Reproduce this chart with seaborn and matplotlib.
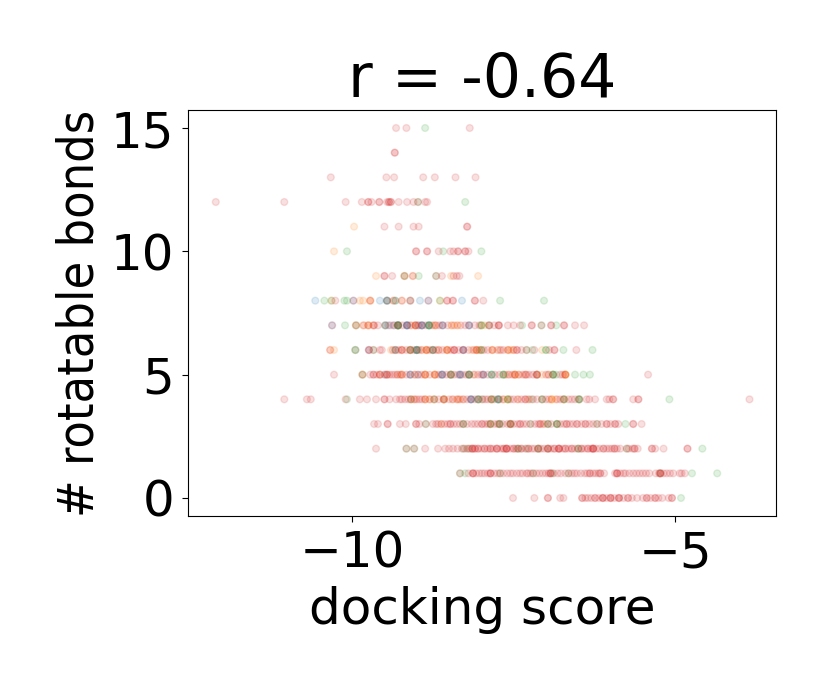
import numpy as np
import pandas as pd
import matplotlib
matplotlib.use("Agg")
import matplotlib.pyplot as plt
import seaborn as sns

# docking scores, one inner list per rotatable bond count (index = bonds)
blue_scores = [
    [], [], [], [],
    [-8.16, -8.16, -8.16, -8.05, -7.74, -7.74, -8.58],
    [-9.10, -9.10, -8.98, -8.61, -8.61, -8.61, -8.47, -8.33, -8.33, -8.33, -8.19, -7.97, -7.97, -7.84, -7.14, -9.49],
    [-9.74, -9.00, -9.00, -9.00, -8.28, -8.28, -9.95, -9.33, -9.10, -8.75],
    [-10.31, -9.49, -9.44, -9.29, -9.29, -9.29, -9.15, -9.15, -9.15, -9.15, -8.92, -8.92, -8.92, -8.81, -8.81, -8.60,
     -8.60, -8.19, -8.19, -9.36, -8.98],
    [-10.57, -9.98, -9.57, -9.46, -9.46, -9.10, -8.95, -8.82, -8.30, -9.33],
]
orange_scores = [
    [], [], [], [-7.86, -7.55, -8.62, -7.05],
    [-9.09, -9.03, -8.87, -8.87, -8.80, -8.73, -8.58, -8.58, -8.58, -8.45, -8.36, -8.36, -8.28, -7.66, -7.59, -7.59, -7.43,
     -7.28, -6.91, -6.91, -6.91, -6.85, -6.72, -7.84],
    [-9.84, -9.57, -9.46, -9.30, -9.23, -9.23, -9.03, -8.87, -8.87, -8.87, -8.72, -8.72, -8.72, -8.47, -8.10, -7.59, -7.48,
     -7.48, -7.48, -7.42, -7.32, -7.14, -7.14, -7.06, -6.96, -6.70, -6.70, -6.70, -6.70],
    [-10.28, -10.34, -9.95, -9.40, -9.23, -9.10, -9.10, -8.93, -8.85, -8.85, -8.85, -8.66, -8.53, -8.53, -8.53, -8.15, -8.07,
     -8.07, -8.07, -8.00, -7.83, -7.83, -7.72, -7.59, -7.59, -7.54, -7.50, -7.06],
    [-9.94, -9.83, -9.75, -9.75, -9.67, -9.08, -9.02, -9.02, -8.72, -8.46, -8.46, -8.37, -8.37, -8.00, -9.29, -8.72, -7.95],
    [-10.32, -9.88, -9.83, -9.72, -9.72, -9.36, -9.23, -9.10, -8.64],
    [-9.63, -9.19, -9.06, -8.47, -8.05],
    [-10.28], [-9.97],
]
green_scores = [
    [-4.91],
    [-8.33, -8.25, -7.71, -7.20, -6.90, -6.65, -5.23, -4.74, -4.35],
    [-9.16, -9.04, -8.28, -8.20, -7.43, -7.43, -7.12, -7.12, -6.50, -6.50, -7.30, -5.75, -6.97, -4.58],
    [-8.86, -8.28, -8.28, -7.86, -7.86, -7.72, -7.72, -7.72, -7.55, -7.55, -7.24, -6.97, -6.97, -6.83, -6.83, -6.83, -6.21,
     -5.77],
    [-10.08, -9.09, -8.73, -8.05, -8.05, -7.99, -7.84, -7.84, -7.74, -7.74, -7.59, -7.59, -7.22, -7.06, -7.06, -6.72, -6.72,
     -6.49, -6.49, -6.49, -5.09],
    [-9.84, -8.47, -8.47, -8.19, -8.19, -8.19, -7.84, -7.84, -7.66, -7.66, -7.66, -6.89, -6.89, -6.89, -6.84, -6.55, -6.42,
     -6.32],
    [-9.95, -9.67, -9.33, -9.10, -9.00, -9.00, -8.75, -8.75, -8.00, -8.00, -7.30, -7.21, -7.00, -7.00, -6.73, -6.28],
    [-10.11, -9.94, -9.49, -9.29, -9.29, -9.29, -8.81, -8.81, -8.81, -8.00, -8.00, -7.88, -7.37, -7.07, -6.84],
    [-10.43, -10.32, -10.12, -10.08, -9.46, -8.64, -7.71, -7.03, -9.33],
    [-9.19, -8.97, -8.70],
    [-10.08, -8.59, -8.00],
    [], [-8.98, -8.25], [], [],
    [-8.87],
]
red_scores = [
    [-7.51, -7.18, -6.97, -6.97, -6.78, -6.73, -6.44, -6.44, -6.39, -6.35, -6.30, -6.24, -6.24, -6.18, -6.12, -6.12, -6.12,
     -6.06, -6.00, -6.00, -6.00, -5.94, -5.87, -5.87, -5.87, -5.80, -5.73, -5.73, -5.67, -5.59, -5.50, -5.44, -5.44, -5.38,
     -5.31, -5.31, -5.26, -5.20, -5.10, -5.05, -5.05],
    [-8.33, -8.20, -8.13, -8.13, -8.13, -8.08, -8.03, -7.99, -7.95, -7.90, -7.86, -7.86, -7.86, -7.80, -7.75, -7.71, -7.66,
     -7.60, -7.55, -7.51, -7.45, -7.40, -7.36, -7.30, -7.28, -7.24, -7.20, -7.15, -7.10, -7.05, -7.00, -6.96, -6.93, -6.93,
     -6.93, -6.88, -6.82, -6.77, -6.70, -6.65, -6.60, -6.56, -6.52, -6.46, -6.40, -6.36, -6.32, -6.32, -6.27, -6.23, -6.19,
     -6.16, -6.16, -6.10, -5.93, -5.90, -5.90, -5.90, -5.85, -5.80, -5.77, -5.71, -5.65, -5.60, -5.55, -5.50, -5.45, -5.40,
     -5.30, -5.25, -5.23, -5.23, -5.23, -5.18, -5.13, -5.08, -5.03, -4.93, -4.90, -4.85],
    [-9.63, -9.16, -9.04, -8.87, -8.67, -8.56, -8.50, -8.44, -8.37, -8.30, -8.26, -8.22, -8.18, -8.14, -8.14, -8.10, -8.10,
     -8.05, -8.00, -7.95, -7.90, -7.86, -7.82, -7.76, -7.76, -7.70, -7.65, -7.61, -7.61, -7.61, -7.55, -7.50, -7.46, -7.43,
     -7.38, -7.32, -7.27, -7.22, -7.18, -7.12, -7.08, -7.03, -6.97, -6.97, -6.92, -6.87, -6.80, -6.80, -6.80, -6.74, -6.70,
     -6.65, -6.60, -6.55, -6.50, -6.45, -6.40, -6.35, -6.30, -6.27, -6.27, -6.27, -6.22, -6.17, -6.11, -6.11, -6.06, -6.02,
     -5.98, -5.94, -5.94, -5.90, -5.85, -5.75, -5.72, -5.66, -5.63, -5.63, -5.58, -5.36, -5.36, -5.31, -5.18, -4.81, -4.81,
     -8.14, -8.05, -7.95, -7.86, -7.76, -7.66, -7.61, -7.50, -7.38, -7.27, -7.12, -6.97, -6.87, -6.80, -6.70, -6.60, -6.45,
     -6.35, -6.27],
    [-9.66, -9.60, -9.45, -9.45, -9.26, -9.17, -9.01, -9.01, -8.96, -8.86, -8.75, -8.70, -8.67, -8.62, -8.57, -8.52, -8.48,
     -8.48, -8.43, -8.38, -8.33, -8.28, -8.22, -8.15, -8.10, -8.05, -7.99, -7.99, -7.94, -7.90, -7.86, -7.80, -7.75, -7.72,
     -7.67, -7.60, -7.55, -7.55, -7.50, -7.44, -7.40, -7.40, -7.35, -7.30, -7.24, -7.17, -7.12, -7.09, -7.09, -7.03, -6.97,
     -6.92, -6.83, -6.78, -6.72, -6.68, -6.68, -6.63, -6.58, -6.52, -6.52, -6.45, -6.39, -6.39, -6.33, -6.27, -6.21, -6.14,
     -6.06, -6.06, -6.00, -5.93, -5.93, -5.88, -5.65, -5.65, -5.52],
    [-11.05, -10.70, -10.64, -10.10, -9.88, -9.77, -9.63, -9.50, -9.50, -9.42, -9.32, -9.26, -9.23, -9.18, -9.13, -9.09,
     -9.04, -9.00, -8.96, -8.92, -8.87, -8.80, -8.73, -8.66, -8.58, -8.50, -8.44, -8.38, -8.33, -8.28, -8.22, -8.16, -8.10,
     -8.04, -7.98, -7.94, -7.90, -7.85, -7.80, -7.72, -7.66, -7.55, -7.50, -7.44, -7.38, -7.32, -7.32, -7.26, -7.20, -7.14,
     -7.06, -7.00, -6.95, -6.83, -6.78, -6.73, -6.65, -6.60, -6.55, -6.48, -6.37, -6.33, -6.24, -6.06, -6.02, -5.96, -5.96,
     -5.65, -5.57, -5.57, -3.85],
    [-10.28, -9.84, -9.72, -9.67, -9.67, -9.62, -9.57, -9.57, -9.50, -9.46, -9.46, -9.42, -9.38, -9.34, -9.30, -9.26, -9.23,
     -9.16, -9.10, -9.03, -8.98, -8.93, -8.87, -8.80, -8.72, -8.66, -8.60, -8.54, -8.48, -8.42, -8.36, -8.30, -8.24, -8.19,
     -8.12, -8.05, -8.00, -7.97, -7.90, -7.79, -7.72, -7.63, -7.57, -7.52, -7.48, -7.42, -7.36, -7.32, -7.30, -7.26, -7.20,
     -7.14, -7.14, -7.00, -6.96, -6.89, -6.78, -6.74, -6.70, -5.42],
    [-10.34, -9.74, -9.74, -9.67, -9.57, -9.54, -9.37, -9.33, -9.28, -9.23, -9.23, -9.16, -9.10, -9.04, -8.97, -8.92, -8.85,
     -8.80, -8.75, -8.70, -8.66, -8.60, -8.53, -8.47, -8.42, -8.42, -8.42, -8.35, -8.28, -8.28, -8.20, -8.12, -8.08, -8.03,
     -7.96, -7.90, -7.83, -7.75, -7.70, -7.66, -7.58, -7.50, -7.45, -7.45, -7.38, -7.30, -7.18, -6.95, -6.87, -6.87, -6.53],
    [-10.31, -9.94, -9.82, -9.75, -9.67, -9.66, -9.60, -9.48, -9.41, -9.35, -9.29, -9.22, -9.15, -9.10, -9.02, -9.02, -8.97,
     -8.92, -8.86, -8.76, -8.70, -8.65, -8.60, -8.52, -8.42, -8.32, -8.25, -8.19, -8.10, -8.03, -7.88, -7.88, -7.80, -7.73,
     -7.73, -7.73, -7.59, -7.50, -7.40, -7.22, -7.22, -7.07, -6.92, -6.92, -6.72, -6.72, -6.55, -6.41],
    [-10.26, -9.98, -9.72, -9.46, -9.36, -9.23, -9.10, -8.82, -8.53, -8.53, -8.44, -8.44, -8.10, -8.10, -7.97],
    [-9.50, -9.50, -9.38, -9.19, -9.06, -8.70, -8.61, -8.43, -8.38, -8.34],
    [-9.01, -9.01, -8.84, -8.84, -8.66, -8.48, -8.43, -8.36, -8.36, -8.25, -8.25, -8.20],
    [-9.50, -9.28, -9.05, -8.97, -8.22, -8.22],
    [-12.11, -11.05, -10.10, -9.85, -9.75, -9.75, -9.70, -9.58, -9.58, -9.46, -9.43, -9.43, -9.40, -9.40, -9.28, -9.15, -9.05,
     -8.98, -8.87, -8.84],
    [-10.33, -9.47, -9.35, -8.90, -8.72, -8.40, -8.09],
    [-9.34, -9.34],
    [-9.32, -9.16, -8.18],
]
series_names = ["blue", "orange", "green", "red"]
series_scores = [blue_scores, orange_scores, green_scores, red_scores]
series_colors = ["tab:blue", "tab:orange", "tab:green", "tab:red"]

rows = []
for name, scores in zip(series_names, series_scores):
    for bonds, vals in enumerate(scores):
        for v in vals:
            rows.append({"score": v, "bonds": bonds, "group": name})
df = pd.DataFrame(rows)

fig = plt.figure(figsize=(8.3, 6.92), dpi=100)
ax = fig.add_axes([188 / 830, 1 - 516 / 692, 588 / 830, 406 / 692])

sns.scatterplot(data=df, x="score", y="bonds", hue="group", hue_order=series_names,
                palette=series_colors, s=24, alpha=0.14, edgecolor="face", linewidth=1.0,
                legend=False, ax=ax)

ax.set_xlim(-12.54, -3.44)
ax.set_ylim(-0.73, 15.73)
ax.set_xticks([-10, -5])
ax.set_yticks([0, 5, 10, 15])
ax.tick_params(labelsize=36, length=4.5, pad=5.5)
ax.set_xlabel("docking score", fontsize=36, labelpad=5.5)
ax.set_ylabel("# rotatable bonds", fontsize=36, fontstretch="condensed", labelpad=5)
ax.set_title("r = -0.64", fontsize=43.2)

fig.savefig("out.png", dpi=100)
